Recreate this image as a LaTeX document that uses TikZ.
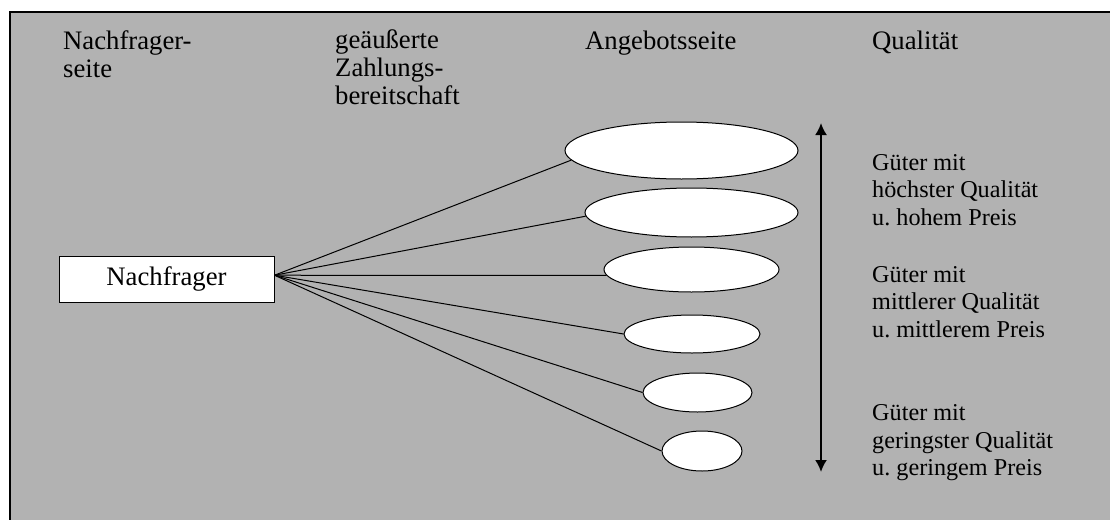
\documentclass[tikz,border=0pt]{standalone}
\usepackage{fontspec}
\setmainfont{Liberation Serif}
\usetikzlibrary{arrows.meta,shapes.geometric}
\definecolor{bg}{RGB}{178,178,178}
\begin{document}
\begin{tikzpicture}[x=1pt,y=-1pt,
  hdr/.style={anchor=base west, inner sep=0, align=left, font=\fontsize{26.7}{27.7}\selectfont},
  body/.style={anchor=base west, inner sep=0, align=left, font=\fontsize{24.2}{27.5}\selectfont},
  offer/.style={ellipse, draw, fill=white, line width=1pt, inner sep=0},
  link/.style={line width=1pt},
  dbl/.style={line width=2pt, {Latex[length=12pt,width=12pt]}-{Latex[length=12pt,width=12pt]}}]
\useasboundingbox (0,0) rectangle (1110,519);
% frame
\fill[bg] (10,12) rectangle (1112,521);
\draw[line width=2pt] (10,521) -- (10,12) -- (1112,12);
% headers (anchor = baseline of last line)
\node[hdr] (h1) at (63,77.7) {Nachfrager-\\seite};
\node[hdr] (h2) at (335,104) {geäußerte\\Zahlungs-\\bereitschaft};
\node[hdr] (h3) at (585,49) {Angebotsseite};
\node[hdr] (h4) at (872,49) {Qualität};
% demand box
\node[draw, fill=white, line width=1pt, minimum width=215pt, minimum height=46pt, inner sep=0,
      font=\fontsize{26.7}{28}\selectfont] (n) at (166.5,279) {Nachfrager};
% offers
\node[offer, minimum width=233pt, minimum height=57pt] (e1) at (681.5,150.5) {};
\node[offer, minimum width=213pt, minimum height=49pt] (e2) at (691.5,212.5) {};
\node[offer, minimum width=175pt, minimum height=45pt] (e3) at (691.5,269.5) {};
\node[offer, minimum width=136pt, minimum height=38pt] (e4) at (692,334) {};
\node[offer, minimum width=109pt, minimum height=39pt] (e5) at (697.5,392.5) {};
\node[offer, minimum width=80pt, minimum height=40pt] (e6) at (702,451) {};
% links
\draw[link] (n.2) -- (e1.185);
\draw[link] (n.2) -- (e2.182);
\draw[link] (n.2) -- (e3.184);
\draw[link] (n.2) -- (e4.west);
\draw[link] (n.2) -- (e5.west);
\draw[link] (n.2) -- (e6.west);
% quality arrow
\coordinate (qtop) at (821,123);
\coordinate (qbot) at (821,472);
\draw[dbl] (qtop) -- (qbot);
% quality texts (anchor = baseline of last line)
\node[body] (t1) at (872,225) {Güter mit\\höchster Qualität\\u.\ hohem Preis};
\node[body] (t2) at (872,337) {Güter mit\\mittlerer Qualität\\u.\ mittlerem Preis};
\node[body] (t3) at (872,475.5) {Güter mit\\geringster Qualität\\u.\ geringem Preis};
\end{tikzpicture}
\end{document}
